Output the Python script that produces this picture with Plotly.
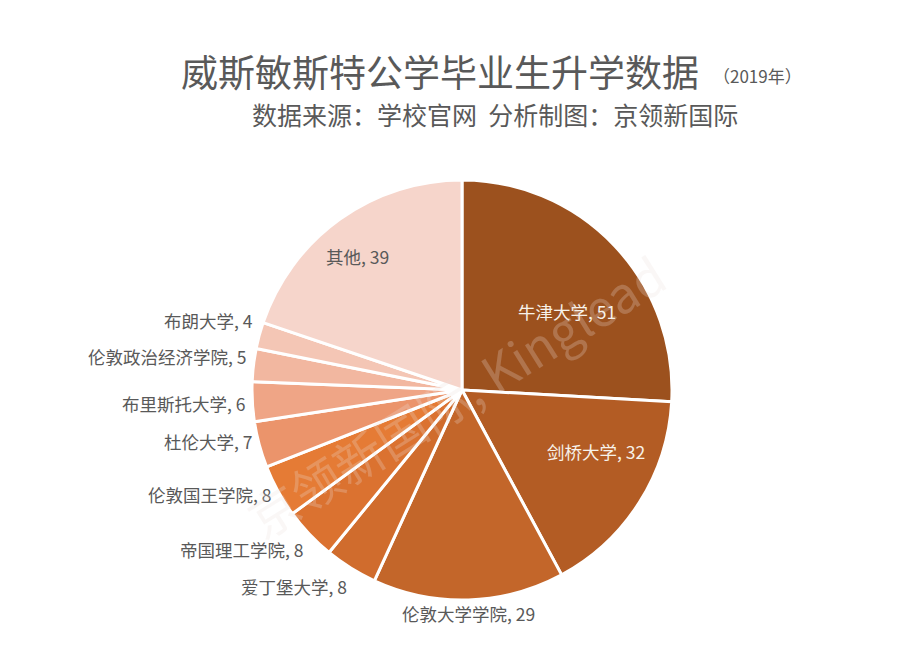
import math
import plotly.graph_objects as go

# ---- data ----
schools = ["牛津大学", "剑桥大学", "伦敦大学学院", "爱丁堡大学", "帝国理工学院", "伦敦国王学院",
           "杜伦大学", "布里斯托大学", "伦敦政治经济学院", "布朗大学", "其他"]
counts = [51, 32, 29, 8, 8, 8, 7, 6, 5, 4, 39]

# ---- styles ----
colors = ["#9C511E", "#B35C24", "#C3662A", "#D06C2D", "#DB7230", "#E57B35",
          "#EB946B", "#EFA586", "#F2B7A0", "#F4C6B5", "#F6D5CB"]
label_mode = ["in", "in", "out", "out", "out", "out", "out", "out", "out", "out", "in"]
label_rfrac = [0.62, 0.70, 1.02, 1.02, 1.02, 1.02, 1.02, 1.02, 1.02, 1.02, 0.80]
label_xshift = [10, 10, 0, 0, 0, 0, 0, 0, 0, 0, -7]
label_yshift = [-11, 17, -9, -15, -12, -1, 4, -2, 8, 14, -3]
label_color = ["#F7F2EA", "#F7F2EA", "#595959", "#595959", "#595959", "#595959",
               "#595959", "#595959", "#595959", "#595959", "#595959"]

W, H = 924, 658
CX, CY, R = 462, 390, 210
FONT = "Noto Sans CJK SC"

fig = go.Figure(go.Pie(
    labels=schools, values=counts, sort=False, direction="clockwise", rotation=0,
    marker=dict(colors=colors, line=dict(color="white", width=3)),
    textinfo="none", hoverinfo="label+value", showlegend=False,
    domain=dict(x=[(CX - R) / W, (CX + R) / W], y=[(H - CY - R) / H, (H - CY + R) / H]),
))

total = sum(counts)
cum = 0
annotations = []
for i, (name, v) in enumerate(zip(schools, counts)):
    mid = (cum + v / 2) / total * 2 * math.pi
    cum += v
    s, c = math.sin(mid), math.cos(mid)
    rr = R * label_rfrac[i]
    px = CX + rr * s
    py = CY - rr * c
    if label_mode[i] == "in":
        xa, ya = "center", "middle"
    else:
        if s < -0.2:
            xa = "right"
        elif s > 0.2:
            xa = "left"
        else:
            xa = "center"
        ya = "middle"
    annotations.append(dict(
        x=px / W, y=1 - py / H, xref="paper", yref="paper",
        text=f"{name}, {v}", showarrow=False, xanchor=xa, yanchor=ya,
        xshift=label_xshift[i], yshift=label_yshift[i],
        font=dict(family=FONT, size=17.5, color=label_color[i]),
    ))

# watermark
annotations.append(dict(
    x=455 / W, y=1 - 395 / H, xref="paper", yref="paper",
    text="京领新国际, Kinglead", showarrow=False, textangle=-32,
    font=dict(family=FONT, size=50, color="rgba(235,225,220,0.25)"),
))

# titles
annotations.append(dict(
    x=440 / W, y=1 - 71 / H, xref="paper", yref="paper",
    text="威斯敏斯特公学毕业生升学数据", showarrow=False, xanchor="center", yanchor="middle",
    font=dict(family=FONT, size=37, color="#595959"), borderpad=0,
))
annotations.append(dict(
    x=711 / W, y=1 - 76 / H, xref="paper", yref="paper",
    text="（2019年）", showarrow=False, xanchor="left", yanchor="middle",
    font=dict(family=FONT, size=17, color="#595959"),
))
annotations.append(dict(
    x=495 / W, y=1 - 114 / H, xref="paper", yref="paper",
    text="数据来源：学校官网  分析制图：京领新国际", showarrow=False, xanchor="center", yanchor="middle",
    font=dict(family=FONT, size=25, color="#595959"), borderpad=0,
))

fig.update_layout(
    width=W, height=H, margin=dict(l=0, r=0, t=0, b=0),
    paper_bgcolor="white", plot_bgcolor="white",
    annotations=annotations,
    font=dict(family=FONT),
)

fig.write_html("out.html", config={"displayModeBar": False},
               post_script="document.body.style.margin='0';document.body.style.overflow='hidden';")
